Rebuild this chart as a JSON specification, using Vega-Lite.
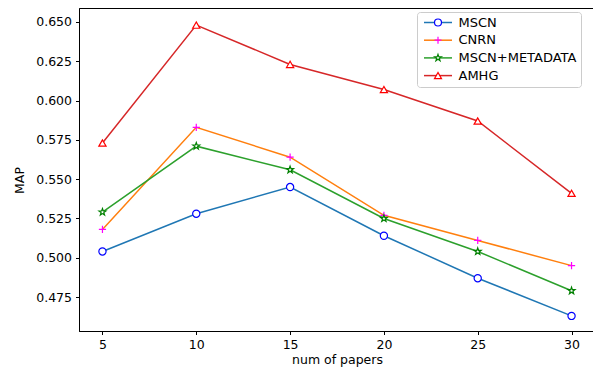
{
  "$schema": "https://vega.github.io/schema/vega-lite/v6.json",
  "width": 516,
  "height": 323,
  "autosize": "none",
  "padding": {"left": 79, "top": 8, "right": 0, "bottom": 38},
  "background": "white",
  "config": {
    "font": "DejaVu Sans",
    "view": {"stroke": "black", "strokeWidth": 1},
    "axis": {
      "grid": false,
      "domainColor": "black",
      "domainWidth": 1,
      "tickColor": "black",
      "tickWidth": 1,
      "tickSize": 3.5,
      "labelColor": "black",
      "labelFontSize": 12.5,
      "labelFont": "DejaVu Sans",
      "titleColor": "black",
      "titleFontSize": 12.5,
      "titleFontWeight": "normal",
      "titleFont": "DejaVu Sans"
    }
  },
  "data": {
    "values": [
      {"papers": 5, "method": "MSCN", "MAP": 0.504},
      {"papers": 10, "method": "MSCN", "MAP": 0.528},
      {"papers": 15, "method": "MSCN", "MAP": 0.545},
      {"papers": 20, "method": "MSCN", "MAP": 0.514},
      {"papers": 25, "method": "MSCN", "MAP": 0.487},
      {"papers": 30, "method": "MSCN", "MAP": 0.463},
      {"papers": 5, "method": "CNRN", "MAP": 0.518},
      {"papers": 10, "method": "CNRN", "MAP": 0.583},
      {"papers": 15, "method": "CNRN", "MAP": 0.564},
      {"papers": 20, "method": "CNRN", "MAP": 0.527},
      {"papers": 25, "method": "CNRN", "MAP": 0.511},
      {"papers": 30, "method": "CNRN", "MAP": 0.495},
      {"papers": 5, "method": "MSCN+METADATA", "MAP": 0.529},
      {"papers": 10, "method": "MSCN+METADATA", "MAP": 0.571},
      {"papers": 15, "method": "MSCN+METADATA", "MAP": 0.556},
      {"papers": 20, "method": "MSCN+METADATA", "MAP": 0.525},
      {"papers": 25, "method": "MSCN+METADATA", "MAP": 0.504},
      {"papers": 30, "method": "MSCN+METADATA", "MAP": 0.479},
      {"papers": 5, "method": "AMHG", "MAP": 0.573},
      {"papers": 10, "method": "AMHG", "MAP": 0.648},
      {"papers": 15, "method": "AMHG", "MAP": 0.623},
      {"papers": 20, "method": "AMHG", "MAP": 0.607},
      {"papers": 25, "method": "AMHG", "MAP": 0.587},
      {"papers": 30, "method": "AMHG", "MAP": 0.541}
    ]
  },
  "encoding": {
    "x": {
      "field": "papers",
      "type": "quantitative",
      "scale": {"domain": [3.75, 31.25], "nice": false, "zero": false},
      "axis": {
        "values": [5, 10, 15, 20, 25, 30],
        "title": "num of papers",
        "labelPadding": 4,
        "titleY": 28,
        "titleBaseline": "middle"
      }
    },
    "y": {
      "field": "MAP",
      "type": "quantitative",
      "scale": {"domain": [0.4534, 0.6589], "nice": false, "zero": false},
      "axis": {
        "values": [0.475, 0.5, 0.525, 0.55, 0.575, 0.6, 0.625, 0.65],
        "format": ".3f",
        "title": "MAP",
        "labelPadding": 4,
        "titleX": -59.5,
        "titleY": 172,
        "titleBaseline": "middle",
        "titleAngle": 270,
        "titleAlign": "center"
      }
    }
  },
  "layer": [
    {
      "mark": {"type": "line", "strokeWidth": 1.5},
      "encoding": {
        "color": {
          "field": "method",
          "type": "nominal",
          "sort": ["MSCN", "CNRN", "MSCN+METADATA", "AMHG"],
          "scale": {
            "range": ["#1f77b4", "#ff7f0e", "#2ca02c", "#d62728"]
          },
          "legend": {
            "title": null,
            "orient": "none",
            "legendX": 338,
            "legendY": 4,
            "padding": 4,
            "strokeColor": "#cccccc",
            "fillColor": "white",
            "cornerRadius": 3,
            "symbolType": "M-4,0H4",
            "symbolSize": 49,
            "symbolOffset": 10.5,
            "symbolStrokeWidth": 1.5,
            "labelFontSize": 13,
            "labelColor": "black",
            "labelOffset": 14,
            "rowPadding": 3.7
          }
        }
      }
    },
    {
      "mark": {"type": "point", "filled": false, "fill": "white", "size": 52, "strokeWidth": 1.2, "opacity": 1},
      "encoding": {
        "stroke": {
          "field": "method",
          "type": "nominal",
          "scale": {
            "domain": ["MSCN", "CNRN", "MSCN+METADATA", "AMHG"],
            "range": ["#0000ff", "#ff00ff", "#008000", "#ff0000"]
          },
          "legend": {
            "title": null,
            "orient": "none",
            "legendX": 338,
            "legendY": 4,
            "padding": 4,
            "strokeColor": "transparent",
            "fillColor": "transparent",
            "symbolSize": 49,
            "symbolOffset": 10.5,
            "symbolStrokeWidth": 1.2,
            "symbolFillColor": "white",
            "labelFontSize": 13,
            "labelExpr": "' '",
            "labelOffset": 14,
            "rowPadding": 3.7
          }
        },
        "shape": {
          "field": "method",
          "type": "nominal",
          "scale": {
            "domain": ["MSCN", "CNRN", "MSCN+METADATA", "AMHG"],
            "range": ["circle", "M-1,0H1M0,-1V1", "M0,-1L0.235,-0.324L0.951,-0.309L0.38,0.124L0.588,0.809L0,0.4L-0.588,0.809L-0.38,0.124L-0.951,-0.309L-0.235,-0.324Z", "triangle-up"]
          },
          "legend": {
            "title": null,
            "orient": "none",
            "legendX": 338,
            "legendY": 4,
            "padding": 4,
            "strokeColor": "transparent",
            "fillColor": "transparent",
            "symbolSize": 49,
            "symbolOffset": 10.5,
            "symbolStrokeWidth": 1.2,
            "symbolFillColor": "white",
            "labelFontSize": 13,
            "labelExpr": "' '",
            "labelOffset": 14,
            "rowPadding": 3.7
          }
        }
      }
    }
  ]
}
